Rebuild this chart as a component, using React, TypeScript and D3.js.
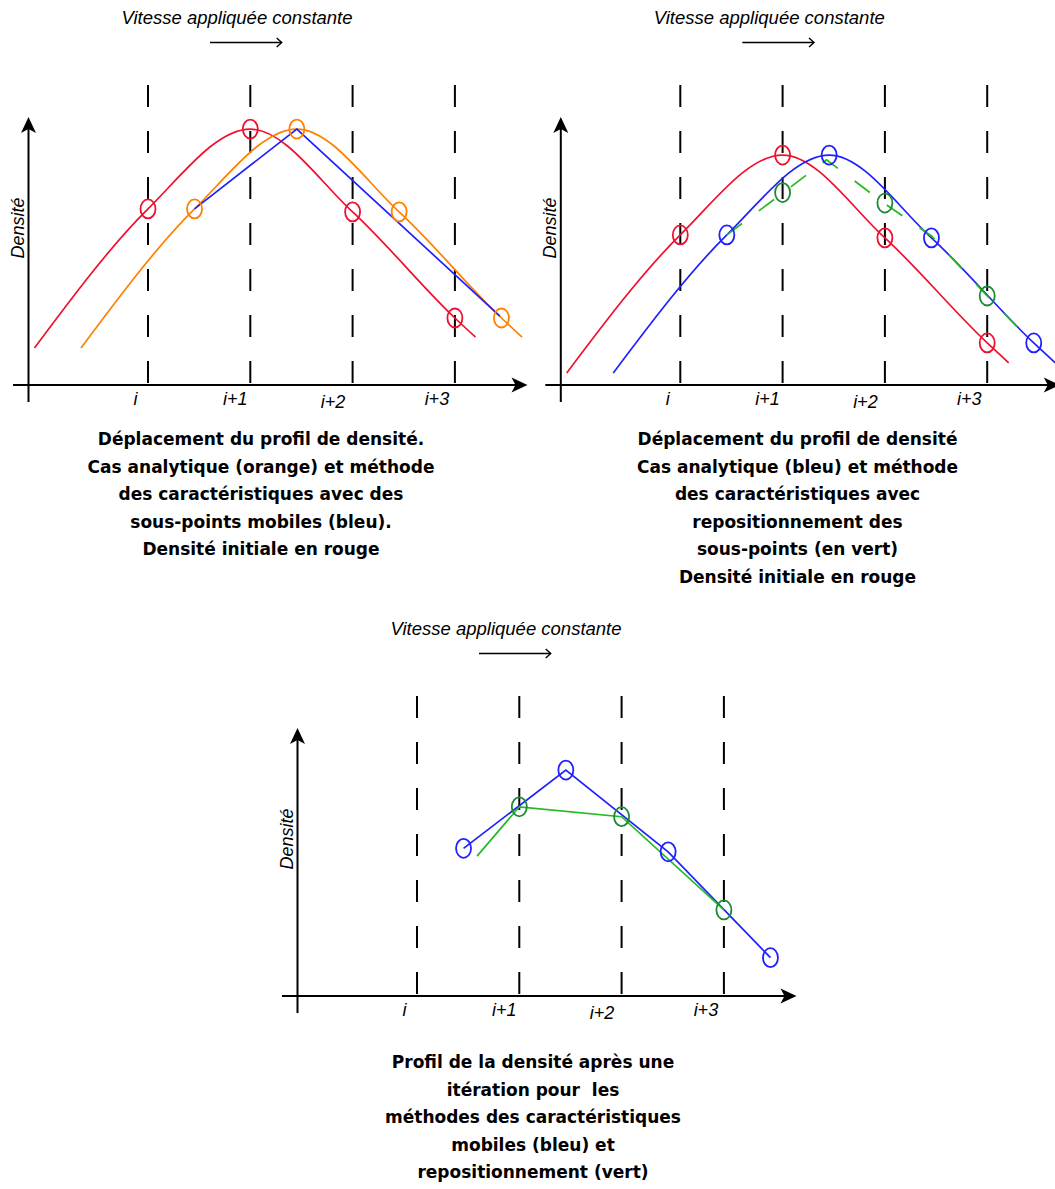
import React from "react";
import * as d3 from "d3";

// ---------- data ----------
const tickLabels = ["i", "i+1", "i+2", "i+3"];
const gridSlots = [0, 1, 2, 3];
const topTitle = "Vitesse appliquée constante";
const axisTitle = "Densité";

// Panel 1 : initial density (red), analytic (orange), moving sub-points (blue)
const p1RedX = [-1.11, 0, 1, 2, 3, 3.2];
const p1RedY = [13.8, 65.7, 95.5, 64.6, 25.0, 17.9];
const p1OrangeX = [-0.655, 0.455, 1.455, 2.455, 3.455, 3.655];
const p1OrangeY = [13.8, 65.7, 95.5, 64.6, 25.0, 17.9];
const p1RedMarkX = [0, 1, 2, 3];
const p1RedMarkY = [65.7, 95.5, 64.6, 25.0];
const p1OrangeMarkX = [0.455, 1.455, 2.455, 3.455];
const p1OrangeMarkY = [65.7, 95.5, 64.6, 25.0];
const p1BlueX = [0.455, 1.455, 3.44];
const p1BlueY = [65.7, 95.5, 25.7];

// Panel 2 : initial (red), analytic (blue), repositioning (green dashed)
const p2RedX = [-1.11, 0, 1, 2, 3, 3.21];
const p2RedY = [4.5, 56.0, 85.8, 54.9, 15.7, 8.3];
const p2BlueX = [-0.655, 0.455, 1.455, 2.455, 3.455, 3.665];
const p2BlueY = [4.5, 56.0, 85.8, 54.9, 15.7, 8.3];
const p2RedMarkX = [0, 1, 2, 3];
const p2RedMarkY = [56.0, 85.8, 54.9, 15.7];
const p2BlueMarkX = [0.455, 1.455, 2.455, 3.455];
const p2BlueMarkY = [56.0, 85.8, 54.9, 15.7];
const p2GreenX = [0.455, 1.0, 1.43, 1.99, 2.455, 3.0, 3.34];
const p2GreenY = [56.0, 71.6, 84.0, 67.9, 55.6, 33.2, 19.8];
const p2GreenMarkX = [1.0, 2.0, 3.0];
const p2GreenMarkY = [71.8, 67.9, 33.2];

// Panel 3 : after one iteration, moving (blue) and repositioning (green)
const p3BlueX = [0.455, 1.455, 2.455, 3.455];
const p3BlueY = [55.1, 84.3, 53.8, 14.3];
const p3GreenX = [0.587, 1.0, 2.0, 3.0];
const p3GreenY = [52.2, 70.6, 66.9, 32.1];
const p3GreenMarkX = [1.0, 2.0, 3.0];
const p3GreenMarkY = [70.6, 66.9, 32.1];

const caption1 = [
  "Déplacement du profil de densité.",
  "Cas analytique (orange) et méthode",
  "des caractéristiques avec des",
  "sous-points mobiles (bleu).",
  "Densité initiale en rouge",
];
const caption2 = [
  "Déplacement du profil de densité",
  "Cas analytique (bleu) et méthode",
  "des caractéristiques avec",
  "repositionnement des",
  "sous-points (en vert)",
  "Densité initiale en rouge",
];
const caption3 = [
  "Profil de la densité après une",
  "itération pour  les",
  "méthodes des caractéristiques",
  "mobiles (bleu) et",
  "repositionnement (vert)",
];

// ---------- styling / layout ----------
const W = 1055;
const H = 1189;
const STEP = 102.3;
const YH = 268;
const RED = "#f0102e";
const ORANGE = "#ff8000";
const BLUE = "#2020ff";
const GREEN_LINE = "#22bb22";
const GREEN_MARK = "#1a8a33";
const ITALIC = "'Liberation Sans', Arial, sans-serif";
const BOLD = "'DejaVu Sans', sans-serif";
const labelShift = [-12.5, -15, -19.5, -18];
const labelDrop = [0, 0, 2.5, 0];

const zip = (xs: number[], ys: number[]): [number, number][] =>
  xs.map((v, i) => [v, ys[i]]);

type Scales = { x: d3.ScaleLinear<number, number>; y: d3.ScaleLinear<number, number> };

function Frame({ gx0, axisY, captionX, captionY, caption, children }: {
  gx0: number; axisY: number; captionX: number; captionY: number; caption: string[];
  children: (s: Scales) => React.ReactNode;
}) {
  const x = d3.scaleLinear().domain([0, 3]).range([gx0, gx0 + 3 * STEP]);
  const y = d3.scaleLinear().domain([0, 100]).range([axisY, axisY - YH]);
  const yAxisX = x(0) - 119.5;
  const xTip = x(0) + 379.5;
  const yTip = y(100);
  const arrowY = axisY - 342.5;
  const arrowX1 = x(0) + 62;
  const arrowX2 = x(0) + 133.7;
  return (
    <g>
      {/* title */}
      <text x={x(0) + 89} y={axisY - 361.5} textAnchor="middle" fontFamily={ITALIC}
        fontStyle="italic" fontSize={18.5} fill="#000">{topTitle}</text>
      <line x1={arrowX1} x2={arrowX2} y1={arrowY} y2={arrowY} stroke="#000" strokeWidth={1.6} />
      <path d={`M${arrowX2 - 5},${arrowY - 4.5}L${arrowX2},${arrowY}L${arrowX2 - 5},${arrowY + 4.5}`}
        fill="none" stroke="#000" strokeWidth={1.4} />
      {/* dashed grid */}
      {gridSlots.map((g) => (
        <line key={"g" + g} x1={x(g)} x2={x(g)} y1={axisY - 300} y2={axisY}
          stroke="#000" strokeWidth={2} strokeDasharray="22,24" />
      ))}
      {/* axes */}
      <line x1={yAxisX} x2={yAxisX} y1={axisY + 17} y2={yTip + 10} stroke="#000" strokeWidth={2} />
      <path d={`M${yAxisX},${yTip}L${yAxisX + 7.5},${yTip + 16}L${yAxisX},${yTip + 12}L${yAxisX - 7.5},${yTip + 16}Z`} fill="#000" />
      <line x1={x(0) - 135} x2={xTip - 10} y1={axisY} y2={axisY} stroke="#000" strokeWidth={2} />
      <path d={`M${xTip},${axisY}L${xTip - 16},${axisY - 7.5}L${xTip - 12},${axisY}L${xTip - 16},${axisY + 7.5}Z`} fill="#000" />
      {/* tick labels */}
      {tickLabels.map((t, k) => (
        <text key={t} x={x(gridSlots[k]) + labelShift[k]} y={axisY + 20 + labelDrop[k]}
          textAnchor="middle" fontFamily={ITALIC} fontStyle="italic" fontSize={18} fill="#000">{t}</text>
      ))}
      {/* y title */}
      <text transform={`translate(${yAxisX - 5},${axisY - 157}) rotate(-90)`} textAnchor="middle"
        fontFamily={ITALIC} fontStyle="italic" fontSize={18} fill="#000">{axisTitle}</text>
      {children({ x, y })}
      {/* caption */}
      {caption.map((c, i) => (
        <text key={"c" + i} x={captionX} y={captionY + i * 27.5} textAnchor="middle"
          fontFamily={BOLD} fontWeight="bold" fontSize={17} fill="#000"
          style={{ whiteSpace: "pre" }}>{c}</text>
      ))}
    </g>
  );
}

function curve(s: Scales, pts: [number, number][], smooth: boolean) {
  const gen = d3.line<[number, number]>()
    .x((d) => s.x(d[0]))
    .y((d) => s.y(d[1]))
    .curve(smooth ? d3.curveMonotoneX : d3.curveLinear);
  return gen(pts) || "";
}

function Marks({ s, xs, ys, color }: { s: Scales; xs: number[]; ys: number[]; color: string }) {
  return (
    <g>
      {zip(xs, ys).map((d, i) => (
        <ellipse key={i} cx={s.x(d[0])} cy={s.y(d[1])} rx={7.5} ry={9.5}
          fill="none" stroke={color} strokeWidth={1.8} />
      ))}
    </g>
  );
}

export default function App() {
  return (
    <svg width={W} height={H} viewBox={`0 0 ${W} ${H}`}
      style={{ position: "absolute", left: 0, top: 0, background: "#fff" }}>
      <rect x={0} y={0} width={W} height={H} fill="#fff" />
      <Frame gx0={148} axisY={385} captionX={261} captionY={445} caption={caption1}>
        {(s) => (
          <g>
            <path d={curve(s, zip(p1RedX, p1RedY), true)} fill="none" stroke={RED} strokeWidth={1.7} />
            <path d={curve(s, zip(p1OrangeX, p1OrangeY), true)} fill="none" stroke={ORANGE} strokeWidth={1.7} />
            <path d={curve(s, zip(p1BlueX, p1BlueY), false)} fill="none" stroke={BLUE} strokeWidth={1.7} />
            <Marks s={s} xs={p1RedMarkX} ys={p1RedMarkY} color={RED} />
            <Marks s={s} xs={p1OrangeMarkX} ys={p1OrangeMarkY} color={ORANGE} />
          </g>
        )}
      </Frame>
      <Frame gx0={680.3} axisY={385} captionX={797.5} captionY={445} caption={caption2}>
        {(s) => (
          <g>
            <path d={curve(s, zip(p2RedX, p2RedY), true)} fill="none" stroke={RED} strokeWidth={1.7} />
            <path d={curve(s, zip(p2BlueX, p2BlueY), true)} fill="none" stroke={BLUE} strokeWidth={1.7} />
            <path d={curve(s, zip(p2GreenX, p2GreenY), false)} fill="none" stroke={GREEN_LINE}
              strokeWidth={1.7} strokeDasharray="19,21" />
            <Marks s={s} xs={p2RedMarkX} ys={p2RedMarkY} color={RED} />
            <Marks s={s} xs={p2BlueMarkX} ys={p2BlueMarkY} color={BLUE} />
            <Marks s={s} xs={p2GreenMarkX} ys={p2GreenMarkY} color={GREEN_MARK} />
          </g>
        )}
      </Frame>
      <Frame gx0={417} axisY={996} captionX={533} captionY={1068} caption={caption3}>
        {(s) => (
          <g>
            <path d={curve(s, zip(p3BlueX, p3BlueY), false)} fill="none" stroke={BLUE} strokeWidth={1.7} />
            <path d={curve(s, zip(p3GreenX, p3GreenY), false)} fill="none" stroke={GREEN_LINE} strokeWidth={1.7} />
            <Marks s={s} xs={p3BlueX} ys={p3BlueY} color={BLUE} />
            <Marks s={s} xs={p3GreenMarkX} ys={p3GreenMarkY} color={GREEN_MARK} />
          </g>
        )}
      </Frame>
    </svg>
  );
}
